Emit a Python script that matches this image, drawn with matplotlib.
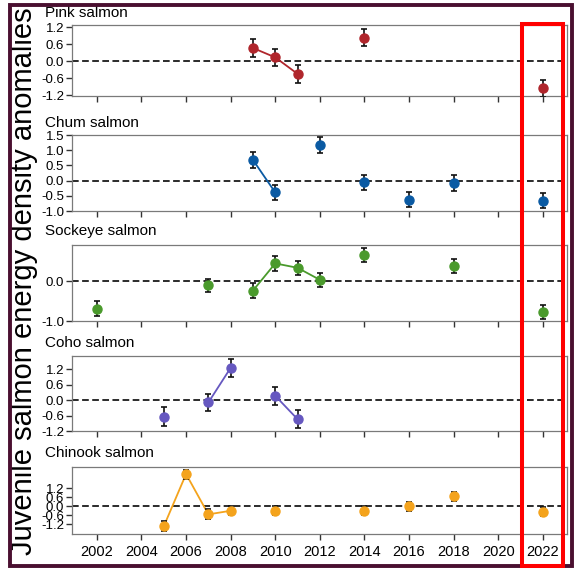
import numpy as np
import matplotlib
matplotlib.use("Agg")
import matplotlib.pyplot as plt
from matplotlib.patches import Rectangle

plt.rcParams['font.family'] = ['Liberation Sans', 'DejaVu Sans']
plt.rcParams['axes.unicode_minus'] = False

# data (year, anomaly, error)
species = ["Pink salmon", "Chum salmon", "Sockeye salmon", "Coho salmon", "Chinook salmon"]
colors = ["#b0262c", "#0a5aa3", "#4a9a2c", "#6658c0", "#f4a31c"]

pink_years = [2009, 2010, 2011, 2014, 2022]
pink_vals = [0.47, 0.14, -0.44, 0.83, -0.95]
pink_err = [0.30, 0.30, 0.31, 0.30, 0.31]

chum_years = [2009, 2010, 2012, 2014, 2016, 2018, 2022]
chum_vals = [0.68, -0.39, 1.17, -0.06, -0.63, -0.08, -0.66]
chum_err = [0.26, 0.26, 0.27, 0.25, 0.25, 0.25, 0.25]

sockeye_years = [2002, 2007, 2009, 2010, 2011, 2012, 2014, 2018, 2022]
sockeye_vals = [-0.69, -0.11, -0.24, 0.44, 0.33, 0.03, 0.65, 0.38, -0.77]
sockeye_err = [0.18, 0.17, 0.18, 0.18, 0.17, 0.17, 0.18, 0.18, 0.17]

coho_years = [2005, 2007, 2008, 2010, 2011]
coho_vals = [-0.64, -0.09, 1.26, 0.17, -0.74]
coho_err = [0.36, 0.35, 0.35, 0.35, 0.36]

chinook_years = [2005, 2006, 2007, 2008, 2010, 2014, 2016, 2018, 2022]
chinook_vals = [-1.33, 2.16, -0.53, -0.29, -0.29, -0.29, 0.0, 0.67, -0.37]
chinook_err = [0.33, 0.30, 0.33, 0.31, 0.30, 0.30, 0.30, 0.30, 0.30]

all_years = [pink_years, chum_years, sockeye_years, coho_years, chinook_years]
all_vals = [pink_vals, chum_vals, sockeye_vals, coho_vals, chinook_vals]
all_err = [pink_err, chum_err, sockeye_err, coho_err, chinook_err]

yticks = [[-1.2, -0.6, 0.0, 0.6, 1.2],
          [-1.0, -0.5, 0.0, 0.5, 1.0, 1.5],
          [-1.0, 0.0],
          [-1.2, -0.6, 0.0, 0.6, 1.2],
          [-1.2, -0.6, 0.0, 0.6, 1.2]]
ylims = [(-1.22, 1.28), (-1.0, 1.5), (-1.0, 0.9), (-1.2, 1.72), (-1.84, 2.63)]
year_ticks = list(range(2002, 2023, 2))

W, H = 574, 569
fig = plt.figure(figsize=(W / 100, H / 100), dpi=100)

# panel placement in pixels (top, bottom)
panels = [(25, 96), (135, 211), (245, 321), (356, 431), (467, 534)]
title_y = [13, 123, 231, 343, 453]
x0, x1 = 71.7, 567.3

for i in range(5):
    top, bot = panels[i]
    ax = fig.add_axes([x0 / W, 1 - bot / H, (x1 - x0) / W, (bot - top) / H])
    yrs = np.array(all_years[i])
    vals = np.array(all_vals[i])
    err = np.array(all_err[i])
    c = colors[i]

    ax.axhline(0, color="#1a1a1a", lw=1.3, ls=(0, (3.7, 1.9)), zorder=1)

    # connect runs of consecutive years
    start = 0
    for k in range(1, len(yrs) + 1):
        if k == len(yrs) or yrs[k] - yrs[k - 1] != 1:
            if k - start > 1:
                ax.plot(yrs[start:k], vals[start:k], color=c, lw=1.3, zorder=2)
            start = k

    ax.errorbar(yrs, vals, yerr=err, fmt="none", ecolor="#111111",
                elinewidth=1.2, capsize=2.3, capthick=1.2, zorder=3)
    ax.plot(yrs, vals, "o", color=c, ms=6.5, zorder=4)

    ax.set_xlim(2000.87, 2023.1)
    ax.set_ylim(*ylims[i])
    ax.set_yticks(yticks[i])
    ax.set_yticklabels([f"{t:.1f}" for t in yticks[i]], fontsize=9.5)
    ax.set_xticks(year_ticks)
    if i == 4:
        ax.set_xticklabels([str(y) for y in year_ticks], fontsize=10.5)
    else:
        ax.set_xticklabels([])
    ax.tick_params(direction="out", length=4, width=1, color="#333333", pad=1.5)
    ax.tick_params(axis="x", pad=4)
    for s in ax.spines.values():
        s.set_color("#7a7a7a")
        s.set_linewidth(0.9)

    fig.text(45 / W, 1 - title_y[i] / H, species[i], fontsize=11, ha="left", va="center")

fig.text(24 / W, 1 - 281 / H, "Juvenile salmon energy density anomalies",
         rotation=90, fontsize=21, ha="center", va="center")

# outer frame and red highlight box
fig.patches.append(Rectangle((10 / W, 1 - 566 / H), 562 / W, 561 / H,
                             transform=fig.transFigure, fill=False,
                             edgecolor="#4a0f30", lw=2.8, zorder=10))
fig.patches.append(Rectangle((522 / W, 1 - 566 / H), 41 / W, 542 / H,
                             transform=fig.transFigure, fill=False,
                             edgecolor="#ff0000", lw=2.9, zorder=11))

fig.savefig("out.png", dpi=100)
